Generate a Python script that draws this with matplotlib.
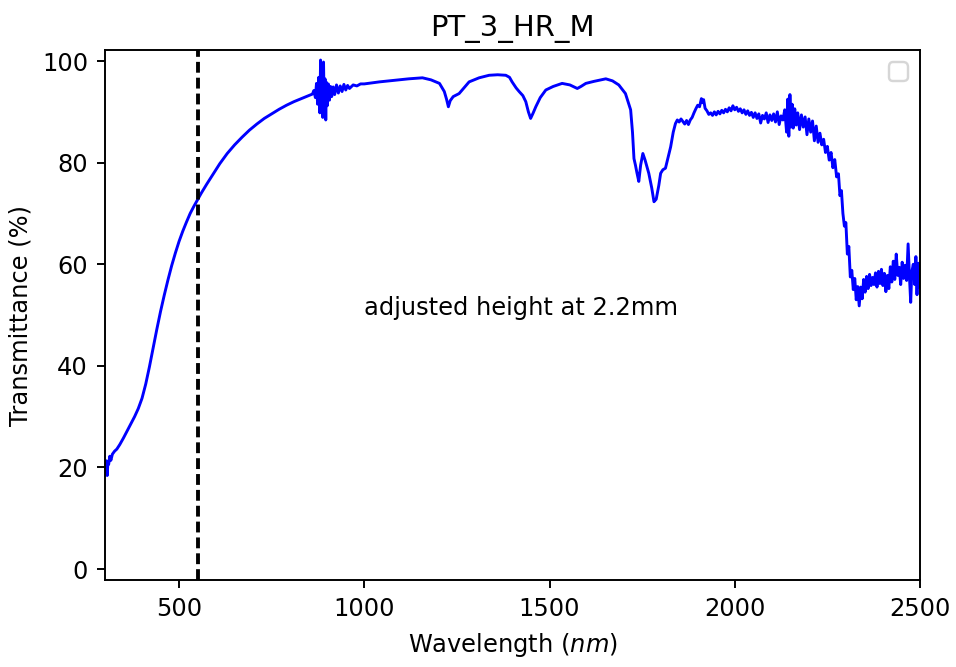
import numpy as np
import matplotlib.pyplot as plt

# values
wl_vis = [300, 302, 304, 306, 308, 310, 313, 316, 320, 326, 332, 340, 350, 360, 370,
          380, 390, 400, 410, 420, 430, 440, 450, 460, 470, 480, 490, 500, 510, 520,
          530, 540, 550, 560, 575, 590, 610, 630, 650, 670, 690, 710, 730, 750, 770,
          790, 810, 830, 850, 860]
t_vis = [20.5, 19.2, 21.3, 18.4, 21.0, 20.6, 22.2, 21.4, 22.6, 23.2, 23.6, 24.5, 25.8, 27.2, 28.6,
         30.0, 31.6, 33.6, 36.4, 39.8, 43.5, 47.2, 50.7, 53.9, 56.9, 59.7, 62.2, 64.5, 66.5, 68.3,
         70.0, 71.4, 72.7, 74.0, 75.8, 77.5, 79.8, 81.8, 83.5, 85.0, 86.4, 87.6, 88.7, 89.6, 90.5,
         91.3, 92.0, 92.6, 93.2, 93.5]

wl_burst = [864, 868, 871, 874, 877, 880, 882, 884, 886, 888, 890, 892, 894, 896, 898,
            900, 903, 906, 909, 912, 916, 920, 925, 930, 935, 940, 945, 950, 955, 960,
            970, 980, 990]
t_burst = [94.2, 92.8, 95.6, 91.5, 96.8, 89.8, 100.2, 91.0, 97.5, 88.9, 99.8, 89.5, 96.5, 88.4, 95.8,
           91.2, 95.5, 92.3, 95.0, 93.0, 94.9, 93.4, 95.3, 93.7, 95.1, 94.0, 95.4, 94.3, 95.2, 94.6,
           95.3, 95.1, 95.5]

wl_mid = [1000, 1041, 1080, 1120, 1157, 1180, 1203, 1216, 1222, 1227, 1232, 1240, 1256, 1270,
          1283, 1310, 1337, 1360, 1382, 1392, 1399, 1410, 1418, 1428, 1436, 1443, 1449, 1456,
          1463, 1475, 1490, 1510, 1534, 1555, 1575, 1585, 1598, 1620, 1652, 1670, 1687, 1705,
          1712, 1719, 1724, 1728, 1732, 1736, 1741, 1746, 1752, 1758, 1768, 1776, 1782, 1788,
          1795, 1800, 1806, 1813, 1820, 1827, 1834]
t_mid = [95.5, 95.9, 96.2, 96.5, 96.7, 96.3, 95.6, 94.0, 92.5, 91.0, 92.2, 93.0, 93.6, 94.8,
         95.9, 96.7, 97.2, 97.3, 97.2, 96.8, 95.9, 94.7, 94.0, 93.2, 92.0, 90.0, 88.7, 89.8,
         91.0, 92.8, 94.3, 95.0, 95.6, 95.3, 94.6, 95.0, 95.6, 96.0, 96.5, 96.1, 95.3, 93.6,
         92.0, 90.4, 86.0, 80.8, 79.5, 78.0, 76.3, 79.5, 81.8, 80.5, 77.9, 75.0, 72.3, 72.8,
         75.5, 77.9, 78.6, 78.9, 81.0, 83.1, 86.0]

wl_nir = [1840, 1845, 1850, 1855, 1860, 1865, 1870, 1875, 1880, 1885, 1890, 1895, 1900, 1905,
          1910, 1913, 1916, 1920, 1925, 1930, 1935, 1940, 1945, 1950, 1955, 1960, 1965, 1970,
          1975, 1980, 1985, 1990, 1995, 2000, 2005, 2010, 2015, 2020, 2025, 2030, 2035, 2040,
          2045, 2050, 2055, 2060, 2065, 2070, 2075, 2080, 2085, 2090, 2095, 2100, 2105, 2110,
          2115, 2120, 2125, 2130, 2135, 2140, 2143, 2146, 2149, 2152, 2155, 2158, 2162, 2166,
          2170, 2175, 2180, 2185, 2190, 2195, 2200, 2205, 2210, 2215, 2220, 2225, 2230, 2235,
          2240, 2245, 2250, 2255, 2260, 2265, 2270, 2275, 2280, 2284, 2288, 2292, 2296, 2300,
          2304, 2308, 2312, 2316, 2320, 2324, 2328, 2332, 2336, 2340, 2344, 2348, 2352, 2356,
          2360, 2364, 2368, 2372, 2376, 2380, 2384, 2388, 2392, 2396, 2400, 2404, 2408, 2412,
          2416, 2420, 2424, 2428, 2432, 2436, 2440, 2444, 2448, 2452, 2456, 2460, 2464, 2468,
          2472, 2475, 2478, 2482, 2486, 2489, 2492, 2495, 2498, 2500]
t_nir = [87.7, 88.4, 88.0, 88.6, 88.1, 87.6, 88.3, 87.5, 88.4, 88.9, 89.8, 90.6, 91.3, 91.0,
         92.6, 91.8, 92.4, 90.7, 90.2, 89.5, 89.8, 89.3, 90.0, 89.4, 90.1, 89.6, 90.3, 89.8,
         90.5, 90.0, 90.8, 90.2, 91.2, 90.4, 90.9, 90.1, 90.6, 89.8, 90.4, 89.5, 90.2, 89.3,
         89.9, 88.9, 89.8, 88.7, 89.6, 87.8, 89.3, 88.6, 89.8, 87.9, 89.4, 88.3, 89.6, 88.0,
         90.0, 87.5, 89.2, 88.4, 90.4, 86.0, 92.5, 85.2, 93.4, 87.0, 91.5, 86.8, 90.6, 87.4,
         89.8, 86.5, 89.4, 87.0, 89.0, 85.5, 88.6, 86.0, 88.2, 84.3, 87.2, 84.0, 85.8, 83.5,
         84.6, 82.0, 83.2, 80.5, 82.0, 79.0, 80.6, 77.2, 77.8, 73.5, 74.5, 70.0, 67.5, 68.2,
         62.0, 63.5, 57.5, 58.8, 55.0, 57.2, 53.0, 55.6, 51.8, 55.5, 53.2, 57.0, 54.5, 57.6,
         55.2, 58.0, 55.8, 57.4, 56.0, 58.3, 55.5, 58.6, 56.2, 59.0, 55.8, 58.2, 54.6, 57.8,
         55.2, 59.5, 56.5, 60.6, 57.0, 62.0, 57.8, 59.4, 56.0, 60.4, 57.2, 59.8, 56.8, 64.0,
         57.0, 52.5, 58.5, 60.0, 56.0, 61.5, 54.0, 60.2, 55.5, 57.0]

wavelength = np.array(wl_vis + wl_burst + wl_mid + wl_nir)
transmittance = np.array(t_vis + t_burst + t_mid + t_nir)

cutoff = 550  # nm
label = 'adjusted height at 2.2mm'

dpi = 174
fig = plt.figure(figsize=(956 / dpi, 667 / dpi), dpi=dpi)
ax = fig.add_axes([0.1098, 0.1304, 0.8525, 0.7946])

ax.plot(wavelength, transmittance, color='blue', lw=1.2)
ax.axvline(cutoff, color='black', lw=1.6, linestyle='--', dashes=(2.8, 1.3))
ax.text(1000, 50, label)

ax.set_xlim(300, 2500)
ax.set_ylim(-2.17, 102.17)
ax.set_xticks([500, 1000, 1500, 2000, 2500])
ax.set_yticks([0, 20, 40, 60, 80, 100])
ax.set_xlabel('Wavelength ($nm$)')
ax.set_ylabel('Transmittance (%)')
ax.set_title('PT_3_HR_M')
ax.legend(handles=[], loc='upper right')

fig.savefig('out.png', dpi=dpi)
